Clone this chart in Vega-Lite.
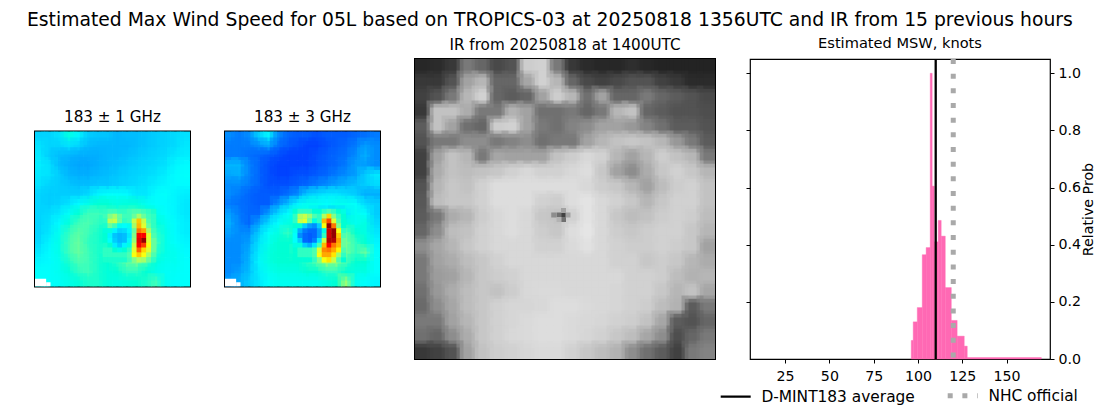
{
"$schema":"https://vega.github.io/schema/vega-lite/v6.json",
"padding":{"left":27,"right":0,"top":10,"bottom":0},
"background":"white",
"config":{"font":"DejaVu Sans","view":{"stroke":"black","strokeWidth":1.2},"concat":{"spacing":35},
"axis":{"domain":false,"grid":false,"tickColor":"black","tickSize":4,"labelColor":"black","labelFontSize":14.2,"titleFontWeight":"normal","titleFontSize":14.2,"titleColor":"black","labelPadding":4}},
"title":{"text":"Estimated Max Wind Speed for 05L based on TROPICS-03 at 20250818 1356UTC and IR from 15 previous hours","fontSize":18.75,"fontWeight":"normal","anchor":"start","frame":"group","offset":6,"dx":-8},
"datasets":{
"hist":[{"lo":96.2,"hi":97.3,"prob":0.065},{"lo":97.3,"hi":99.6,"prob":0.13},{"lo":99.6,"hi":102.4,"prob":0.18},{"lo":102.4,"hi":104.6,"prob":0.365},{"lo":104.6,"hi":106.9,"prob":0.39},{"lo":106.9,"hi":108.0,"prob":1.0},{"lo":108.0,"hi":109.2,"prob":0.605},{"lo":109.2,"hi":110.3,"prob":0.41},{"lo":110.3,"hi":111.4,"prob":0.41},{"lo":111.4,"hi":113.1,"prob":0.485},{"lo":113.1,"hi":115.4,"prob":0.43},{"lo":115.4,"hi":118.8,"prob":0.25},{"lo":118.8,"hi":122.1,"prob":0.135},{"lo":122.1,"hi":126.1,"prob":0.08},{"lo":126.1,"hi":127.8,"prob":0.045},{"lo":127.8,"hi":169.6,"prob":0.005}],
"marks":[{"name":"D-MINT183 average","knots":110},{"name":"NHC official","knots":119.9}],
"nodata":[{"x":0,"x2":4.6,"y":60.8,"y2":64},{"x":4.6,"x2":6.4,"y":62.2,"y2":64}],
"mw1":[
{"x":2,"y":2,"v":31},{"x":6,"y":2,"v":31},{"x":10,"y":2,"v":33},{"x":14,"y":2,"v":42},{"x":18,"y":2,"v":36},{"x":22,"y":2,"v":30},{"x":26,"y":2,"v":29},{"x":30,"y":2,"v":29},{"x":34,"y":2,"v":27},{"x":38,"y":2,"v":28},{"x":42,"y":2,"v":28},{"x":46,"y":2,"v":29},{"x":50,"y":2,"v":30},{"x":54,"y":2,"v":31},{"x":58,"y":2,"v":32},{"x":62,"y":2,"v":33},
{"x":2,"y":6,"v":33},{"x":6,"y":6,"v":31},{"x":10,"y":6,"v":31},{"x":14,"y":6,"v":33},{"x":18,"y":6,"v":31},{"x":22,"y":6,"v":28},{"x":26,"y":6,"v":27},{"x":30,"y":6,"v":27},{"x":34,"y":6,"v":27},{"x":38,"y":6,"v":27},{"x":42,"y":6,"v":28},{"x":46,"y":6,"v":29},{"x":50,"y":6,"v":30},{"x":54,"y":6,"v":31},{"x":58,"y":6,"v":32},{"x":62,"y":6,"v":34},
{"x":2,"y":10,"v":34},{"x":6,"y":10,"v":30},{"x":10,"y":10,"v":28},{"x":14,"y":10,"v":27},{"x":18,"y":10,"v":26},{"x":22,"y":10,"v":26},{"x":26,"y":10,"v":26},{"x":30,"y":10,"v":27},{"x":34,"y":10,"v":27},{"x":38,"y":10,"v":28},{"x":42,"y":10,"v":29},{"x":46,"y":10,"v":30},{"x":50,"y":10,"v":31},{"x":54,"y":10,"v":32},{"x":58,"y":10,"v":34},{"x":62,"y":10,"v":35},
{"x":2,"y":14,"v":35},{"x":6,"y":14,"v":33},{"x":10,"y":14,"v":28},{"x":14,"y":14,"v":26},{"x":18,"y":14,"v":25},{"x":22,"y":14,"v":25},{"x":26,"y":14,"v":26},{"x":30,"y":14,"v":27},{"x":34,"y":14,"v":28},{"x":38,"y":14,"v":29},{"x":42,"y":14,"v":30},{"x":46,"y":14,"v":31},{"x":50,"y":14,"v":32},{"x":54,"y":14,"v":33},{"x":58,"y":14,"v":36},{"x":62,"y":14,"v":37},
{"x":2,"y":18,"v":34},{"x":6,"y":18,"v":33},{"x":10,"y":18,"v":30},{"x":14,"y":18,"v":27},{"x":18,"y":18,"v":26},{"x":22,"y":18,"v":26},{"x":26,"y":18,"v":27},{"x":30,"y":18,"v":28},{"x":34,"y":18,"v":29},{"x":38,"y":18,"v":30},{"x":42,"y":18,"v":31},{"x":46,"y":18,"v":32},{"x":50,"y":18,"v":33},{"x":54,"y":18,"v":35},{"x":58,"y":18,"v":37},{"x":62,"y":18,"v":38},
{"x":2,"y":22,"v":33},{"x":6,"y":22,"v":31},{"x":10,"y":22,"v":30},{"x":14,"y":22,"v":29},{"x":18,"y":22,"v":28},{"x":22,"y":22,"v":28},{"x":26,"y":22,"v":29},{"x":30,"y":22,"v":29},{"x":34,"y":22,"v":30},{"x":38,"y":22,"v":31},{"x":42,"y":22,"v":32},{"x":46,"y":22,"v":33},{"x":50,"y":22,"v":35},{"x":54,"y":22,"v":36},{"x":58,"y":22,"v":37},{"x":62,"y":22,"v":37},
{"x":2,"y":26,"v":31},{"x":6,"y":26,"v":30},{"x":10,"y":26,"v":30},{"x":14,"y":26,"v":30},{"x":18,"y":26,"v":30},{"x":22,"y":26,"v":32},{"x":26,"y":26,"v":36},{"x":30,"y":26,"v":38},{"x":34,"y":26,"v":38},{"x":38,"y":26,"v":37},{"x":42,"y":26,"v":34},{"x":46,"y":26,"v":34},{"x":50,"y":26,"v":37},{"x":54,"y":26,"v":38},{"x":58,"y":26,"v":36},{"x":62,"y":26,"v":35},
{"x":2,"y":30,"v":31},{"x":6,"y":30,"v":30},{"x":10,"y":30,"v":31},{"x":14,"y":30,"v":33},{"x":18,"y":30,"v":37},{"x":22,"y":30,"v":41},{"x":26,"y":30,"v":44},{"x":30,"y":30,"v":44},{"x":34,"y":30,"v":42},{"x":38,"y":30,"v":43},{"x":42,"y":30,"v":43},{"x":46,"y":30,"v":40},{"x":50,"y":30,"v":38},{"x":54,"y":30,"v":37},{"x":58,"y":30,"v":36},{"x":62,"y":30,"v":34},
{"x":2,"y":34,"v":31},{"x":6,"y":34,"v":32},{"x":10,"y":34,"v":34},{"x":14,"y":34,"v":39},{"x":18,"y":34,"v":44},{"x":22,"y":34,"v":47},{"x":26,"y":34,"v":47},{"x":30,"y":34,"v":46},{"x":34,"y":34,"v":45},{"x":38,"y":34,"v":46},{"x":42,"y":34,"v":46},{"x":46,"y":34,"v":44},{"x":50,"y":34,"v":41},{"x":54,"y":34,"v":38},{"x":58,"y":34,"v":36},{"x":62,"y":34,"v":34},
{"x":2,"y":38,"v":31},{"x":6,"y":38,"v":33},{"x":10,"y":38,"v":37},{"x":14,"y":38,"v":43},{"x":18,"y":38,"v":47},{"x":22,"y":38,"v":48},{"x":26,"y":38,"v":46},{"x":30,"y":38,"v":45},{"x":34,"y":38,"v":50},{"x":38,"y":38,"v":42},{"x":42,"y":38,"v":50},{"x":46,"y":38,"v":50},{"x":50,"y":38,"v":44},{"x":54,"y":38,"v":40},{"x":58,"y":38,"v":37},{"x":62,"y":38,"v":35},
{"x":2,"y":42,"v":31},{"x":6,"y":42,"v":34},{"x":10,"y":42,"v":40},{"x":14,"y":42,"v":46},{"x":18,"y":42,"v":49},{"x":22,"y":42,"v":47},{"x":26,"y":42,"v":45},{"x":30,"y":42,"v":44},{"x":34,"y":42,"v":35},{"x":38,"y":42,"v":30},{"x":42,"y":42,"v":60},{"x":46,"y":42,"v":62},{"x":50,"y":42,"v":46},{"x":54,"y":42,"v":41},{"x":58,"y":42,"v":37},{"x":62,"y":42,"v":35},
{"x":2,"y":46,"v":32},{"x":6,"y":46,"v":36},{"x":10,"y":46,"v":41},{"x":14,"y":46,"v":47},{"x":18,"y":46,"v":50},{"x":22,"y":46,"v":46},{"x":26,"y":46,"v":45},{"x":30,"y":46,"v":44},{"x":34,"y":46,"v":43},{"x":38,"y":46,"v":38},{"x":42,"y":46,"v":65},{"x":46,"y":46,"v":62},{"x":50,"y":46,"v":48},{"x":54,"y":46,"v":41},{"x":58,"y":46,"v":38},{"x":62,"y":46,"v":36},
{"x":2,"y":50,"v":34},{"x":6,"y":50,"v":37},{"x":10,"y":50,"v":41},{"x":14,"y":50,"v":47},{"x":18,"y":50,"v":50},{"x":22,"y":50,"v":47},{"x":26,"y":50,"v":45},{"x":30,"y":50,"v":45},{"x":34,"y":50,"v":46},{"x":38,"y":50,"v":50},{"x":42,"y":50,"v":62},{"x":46,"y":50,"v":56},{"x":50,"y":50,"v":46},{"x":54,"y":50,"v":41},{"x":58,"y":50,"v":40},{"x":62,"y":50,"v":37},
{"x":2,"y":54,"v":36},{"x":6,"y":54,"v":37},{"x":10,"y":54,"v":40},{"x":14,"y":54,"v":45},{"x":18,"y":54,"v":48},{"x":22,"y":54,"v":47},{"x":26,"y":54,"v":45},{"x":30,"y":54,"v":44},{"x":34,"y":54,"v":46},{"x":38,"y":54,"v":50},{"x":42,"y":54,"v":52},{"x":46,"y":54,"v":48},{"x":50,"y":54,"v":43},{"x":54,"y":54,"v":40},{"x":58,"y":54,"v":40},{"x":62,"y":54,"v":38},
{"x":2,"y":58,"v":38},{"x":6,"y":58,"v":38},{"x":10,"y":58,"v":40},{"x":14,"y":58,"v":43},{"x":18,"y":58,"v":46},{"x":22,"y":58,"v":47},{"x":26,"y":58,"v":45},{"x":30,"y":58,"v":43},{"x":34,"y":58,"v":44},{"x":38,"y":58,"v":46},{"x":42,"y":58,"v":46},{"x":46,"y":58,"v":44},{"x":50,"y":58,"v":41},{"x":54,"y":58,"v":39},{"x":58,"y":58,"v":39},{"x":62,"y":58,"v":38},
{"x":2,"y":62,"v":38},{"x":6,"y":62,"v":38},{"x":10,"y":62,"v":39},{"x":14,"y":62,"v":41},{"x":18,"y":62,"v":43},{"x":22,"y":62,"v":45},{"x":26,"y":62,"v":45},{"x":30,"y":62,"v":43},{"x":34,"y":62,"v":42},{"x":38,"y":62,"v":43},{"x":42,"y":62,"v":44},{"x":46,"y":62,"v":45},{"x":50,"y":62,"v":47},{"x":54,"y":62,"v":40},{"x":58,"y":62,"v":38},{"x":62,"y":62,"v":38}
],
"mw1core":[
{"x":29,"y":33,"v":46},{"x":31,"y":33,"v":47},{"x":33,"y":33,"v":47},{"x":35,"y":33,"v":46},{"x":37,"y":33,"v":46},{"x":39,"y":33,"v":47},{"x":41,"y":33,"v":48},{"x":43,"y":33,"v":48},{"x":45,"y":33,"v":47},{"x":47,"y":33,"v":46},{"x":49,"y":33,"v":45},
{"x":29,"y":35,"v":47},{"x":31,"y":35,"v":52},{"x":33,"y":35,"v":55},{"x":35,"y":35,"v":50},{"x":37,"y":35,"v":47},{"x":39,"y":35,"v":47},{"x":41,"y":35,"v":50},{"x":43,"y":35,"v":55},{"x":45,"y":35,"v":50},{"x":47,"y":35,"v":47},{"x":49,"y":35,"v":46},
{"x":29,"y":37,"v":46},{"x":31,"y":37,"v":57},{"x":33,"y":37,"v":58},{"x":35,"y":37,"v":50},{"x":37,"y":37,"v":46},{"x":39,"y":37,"v":47},{"x":41,"y":37,"v":58},{"x":43,"y":37,"v":70},{"x":45,"y":37,"v":58},{"x":47,"y":37,"v":48},{"x":49,"y":37,"v":46},
{"x":29,"y":39,"v":45},{"x":31,"y":39,"v":50},{"x":33,"y":39,"v":47},{"x":35,"y":39,"v":40},{"x":37,"y":39,"v":38},{"x":39,"y":39,"v":40},{"x":41,"y":39,"v":55},{"x":43,"y":39,"v":72},{"x":45,"y":39,"v":60},{"x":47,"y":39,"v":50},{"x":49,"y":39,"v":46},
{"x":29,"y":41,"v":43},{"x":31,"y":41,"v":42},{"x":33,"y":41,"v":36},{"x":35,"y":41,"v":31},{"x":37,"y":41,"v":32},{"x":39,"y":41,"v":36},{"x":41,"y":41,"v":50},{"x":43,"y":41,"v":80},{"x":45,"y":41,"v":75},{"x":47,"y":41,"v":55},{"x":49,"y":41,"v":47},
{"x":29,"y":43,"v":44},{"x":31,"y":43,"v":36},{"x":33,"y":43,"v":29},{"x":35,"y":43,"v":27},{"x":37,"y":43,"v":28},{"x":39,"y":43,"v":34},{"x":41,"y":43,"v":52},{"x":43,"y":43,"v":88},{"x":45,"y":43,"v":88},{"x":47,"y":43,"v":60},{"x":49,"y":43,"v":48},
{"x":29,"y":45,"v":44},{"x":31,"y":45,"v":38},{"x":33,"y":45,"v":30},{"x":35,"y":45,"v":27},{"x":37,"y":45,"v":28},{"x":39,"y":45,"v":36},{"x":41,"y":45,"v":54},{"x":43,"y":45,"v":90},{"x":45,"y":45,"v":98},{"x":47,"y":45,"v":60},{"x":49,"y":45,"v":50},
{"x":29,"y":47,"v":45},{"x":31,"y":47,"v":44},{"x":33,"y":47,"v":35},{"x":35,"y":47,"v":30},{"x":37,"y":47,"v":36},{"x":39,"y":47,"v":42},{"x":41,"y":47,"v":58},{"x":43,"y":47,"v":88},{"x":45,"y":47,"v":85},{"x":47,"y":47,"v":62},{"x":49,"y":47,"v":50},
{"x":29,"y":49,"v":46},{"x":31,"y":49,"v":46},{"x":33,"y":49,"v":44},{"x":35,"y":49,"v":42},{"x":37,"y":49,"v":44},{"x":39,"y":49,"v":46},{"x":41,"y":49,"v":60},{"x":43,"y":49,"v":82},{"x":45,"y":49,"v":68},{"x":47,"y":49,"v":60},{"x":49,"y":49,"v":50},
{"x":29,"y":51,"v":46},{"x":31,"y":51,"v":46},{"x":33,"y":51,"v":46},{"x":35,"y":51,"v":46},{"x":37,"y":51,"v":46},{"x":39,"y":51,"v":48},{"x":41,"y":51,"v":62},{"x":43,"y":51,"v":70},{"x":45,"y":51,"v":62},{"x":47,"y":51,"v":55},{"x":49,"y":51,"v":48},
{"x":29,"y":53,"v":45},{"x":31,"y":53,"v":45},{"x":33,"y":53,"v":45},{"x":35,"y":53,"v":45},{"x":37,"y":53,"v":45},{"x":39,"y":53,"v":47},{"x":41,"y":53,"v":52},{"x":43,"y":53,"v":56},{"x":45,"y":53,"v":55},{"x":47,"y":53,"v":50},{"x":49,"y":53,"v":46}
],
"mw2":[
{"x":2,"y":2,"v":22},{"x":6,"y":2,"v":20},{"x":10,"y":2,"v":22},{"x":14,"y":2,"v":30},{"x":18,"y":2,"v":36},{"x":22,"y":2,"v":22},{"x":26,"y":2,"v":18},{"x":30,"y":2,"v":17},{"x":34,"y":2,"v":17},{"x":38,"y":2,"v":16},{"x":42,"y":2,"v":17},{"x":46,"y":2,"v":17},{"x":50,"y":2,"v":17},{"x":54,"y":2,"v":18},{"x":58,"y":2,"v":19},{"x":62,"y":2,"v":20},
{"x":2,"y":6,"v":20},{"x":6,"y":6,"v":20},{"x":10,"y":6,"v":20},{"x":14,"y":6,"v":22},{"x":18,"y":6,"v":25},{"x":22,"y":6,"v":19},{"x":26,"y":6,"v":17},{"x":30,"y":6,"v":16},{"x":34,"y":6,"v":15},{"x":38,"y":6,"v":15},{"x":42,"y":6,"v":16},{"x":46,"y":6,"v":17},{"x":50,"y":6,"v":18},{"x":54,"y":6,"v":20},{"x":58,"y":6,"v":24},{"x":62,"y":6,"v":22},
{"x":2,"y":10,"v":20},{"x":6,"y":10,"v":20},{"x":10,"y":10,"v":19},{"x":14,"y":10,"v":18},{"x":18,"y":10,"v":17},{"x":22,"y":10,"v":16},{"x":26,"y":10,"v":15},{"x":30,"y":10,"v":15},{"x":34,"y":10,"v":15},{"x":38,"y":10,"v":16},{"x":42,"y":10,"v":17},{"x":46,"y":10,"v":18},{"x":50,"y":10,"v":19},{"x":54,"y":10,"v":22},{"x":58,"y":10,"v":26},{"x":62,"y":10,"v":22},
{"x":2,"y":14,"v":27},{"x":6,"y":14,"v":27},{"x":10,"y":14,"v":21},{"x":14,"y":14,"v":18},{"x":18,"y":14,"v":16},{"x":22,"y":14,"v":15},{"x":26,"y":14,"v":15},{"x":30,"y":14,"v":15},{"x":34,"y":14,"v":15},{"x":38,"y":14,"v":16},{"x":42,"y":14,"v":17},{"x":46,"y":14,"v":18},{"x":50,"y":14,"v":20},{"x":54,"y":14,"v":24},{"x":58,"y":14,"v":24},{"x":62,"y":14,"v":22},
{"x":2,"y":18,"v":25},{"x":6,"y":18,"v":26},{"x":10,"y":18,"v":21},{"x":14,"y":18,"v":18},{"x":18,"y":18,"v":16},{"x":22,"y":18,"v":15},{"x":26,"y":18,"v":15},{"x":30,"y":18,"v":16},{"x":34,"y":18,"v":16},{"x":38,"y":18,"v":17},{"x":42,"y":18,"v":18},{"x":46,"y":18,"v":20},{"x":50,"y":18,"v":22},{"x":54,"y":18,"v":24},{"x":58,"y":18,"v":30},{"x":62,"y":18,"v":34},
{"x":2,"y":22,"v":22},{"x":6,"y":22,"v":22},{"x":10,"y":22,"v":20},{"x":14,"y":22,"v":18},{"x":18,"y":22,"v":16},{"x":22,"y":22,"v":16},{"x":26,"y":22,"v":16},{"x":30,"y":22,"v":17},{"x":34,"y":22,"v":18},{"x":38,"y":22,"v":20},{"x":42,"y":22,"v":22},{"x":46,"y":22,"v":24},{"x":50,"y":22,"v":26},{"x":54,"y":22,"v":28},{"x":58,"y":22,"v":30},{"x":62,"y":22,"v":32},
{"x":2,"y":26,"v":22},{"x":6,"y":26,"v":20},{"x":10,"y":26,"v":18},{"x":14,"y":26,"v":17},{"x":18,"y":26,"v":17},{"x":22,"y":26,"v":17},{"x":26,"y":26,"v":19},{"x":30,"y":26,"v":22},{"x":34,"y":26,"v":30},{"x":38,"y":26,"v":32},{"x":42,"y":26,"v":34},{"x":46,"y":26,"v":34},{"x":50,"y":26,"v":32},{"x":54,"y":26,"v":30},{"x":58,"y":26,"v":26},{"x":62,"y":26,"v":26},
{"x":2,"y":30,"v":20},{"x":6,"y":30,"v":19},{"x":10,"y":30,"v":18},{"x":14,"y":30,"v":17},{"x":18,"y":30,"v":17},{"x":22,"y":30,"v":22},{"x":26,"y":30,"v":28},{"x":30,"y":30,"v":36},{"x":34,"y":30,"v":40},{"x":38,"y":30,"v":40},{"x":42,"y":30,"v":38},{"x":46,"y":30,"v":40},{"x":50,"y":30,"v":40},{"x":54,"y":30,"v":38},{"x":58,"y":30,"v":32},{"x":62,"y":30,"v":30},
{"x":2,"y":34,"v":24},{"x":6,"y":34,"v":20},{"x":10,"y":34,"v":18},{"x":14,"y":34,"v":18},{"x":18,"y":34,"v":24},{"x":22,"y":34,"v":32},{"x":26,"y":34,"v":38},{"x":30,"y":34,"v":42},{"x":34,"y":34,"v":40},{"x":38,"y":34,"v":34},{"x":42,"y":34,"v":32},{"x":46,"y":34,"v":30},{"x":50,"y":34,"v":34},{"x":54,"y":34,"v":40},{"x":58,"y":34,"v":38},{"x":62,"y":34,"v":30},
{"x":2,"y":38,"v":26},{"x":6,"y":38,"v":21},{"x":10,"y":38,"v":18},{"x":14,"y":38,"v":24},{"x":18,"y":38,"v":32},{"x":22,"y":38,"v":38},{"x":26,"y":38,"v":42},{"x":30,"y":38,"v":42},{"x":34,"y":38,"v":46},{"x":38,"y":38,"v":38},{"x":42,"y":38,"v":48},{"x":46,"y":38,"v":52},{"x":50,"y":38,"v":44},{"x":54,"y":38,"v":40},{"x":58,"y":38,"v":42},{"x":62,"y":38,"v":32},
{"x":2,"y":42,"v":24},{"x":6,"y":42,"v":22},{"x":10,"y":42,"v":22},{"x":14,"y":42,"v":30},{"x":18,"y":42,"v":38},{"x":22,"y":42,"v":42},{"x":26,"y":42,"v":46},{"x":30,"y":42,"v":44},{"x":34,"y":42,"v":30},{"x":38,"y":42,"v":22},{"x":42,"y":42,"v":55},{"x":46,"y":42,"v":70},{"x":50,"y":42,"v":50},{"x":54,"y":42,"v":44},{"x":58,"y":42,"v":42},{"x":62,"y":42,"v":34},
{"x":2,"y":46,"v":22},{"x":6,"y":46,"v":22},{"x":10,"y":46,"v":24},{"x":14,"y":46,"v":33},{"x":18,"y":46,"v":40},{"x":22,"y":46,"v":44},{"x":26,"y":46,"v":44},{"x":30,"y":46,"v":44},{"x":34,"y":46,"v":40},{"x":38,"y":46,"v":34},{"x":42,"y":46,"v":70},{"x":46,"y":46,"v":70},{"x":50,"y":46,"v":52},{"x":54,"y":46,"v":46},{"x":58,"y":46,"v":44},{"x":62,"y":46,"v":36},
{"x":2,"y":50,"v":22},{"x":6,"y":50,"v":22},{"x":10,"y":50,"v":26},{"x":14,"y":50,"v":35},{"x":18,"y":50,"v":42},{"x":22,"y":50,"v":44},{"x":26,"y":50,"v":44},{"x":30,"y":50,"v":46},{"x":34,"y":50,"v":46},{"x":38,"y":50,"v":54},{"x":42,"y":50,"v":66},{"x":46,"y":50,"v":62},{"x":50,"y":50,"v":52},{"x":54,"y":50,"v":46},{"x":58,"y":50,"v":50},{"x":62,"y":50,"v":38},
{"x":2,"y":54,"v":22},{"x":6,"y":54,"v":22},{"x":10,"y":54,"v":27},{"x":14,"y":54,"v":36},{"x":18,"y":54,"v":42},{"x":22,"y":54,"v":44},{"x":26,"y":54,"v":44},{"x":30,"y":54,"v":44},{"x":34,"y":54,"v":46},{"x":38,"y":54,"v":50},{"x":42,"y":54,"v":56},{"x":46,"y":54,"v":54},{"x":50,"y":54,"v":48},{"x":54,"y":54,"v":44},{"x":58,"y":54,"v":44},{"x":62,"y":54,"v":38},
{"x":2,"y":58,"v":22},{"x":6,"y":58,"v":24},{"x":10,"y":58,"v":28},{"x":14,"y":58,"v":35},{"x":18,"y":58,"v":40},{"x":22,"y":58,"v":42},{"x":26,"y":58,"v":42},{"x":30,"y":58,"v":42},{"x":34,"y":58,"v":44},{"x":38,"y":58,"v":44},{"x":42,"y":58,"v":46},{"x":46,"y":58,"v":46},{"x":50,"y":58,"v":44},{"x":54,"y":58,"v":42},{"x":58,"y":58,"v":42},{"x":62,"y":58,"v":38},
{"x":2,"y":62,"v":24},{"x":6,"y":62,"v":26},{"x":10,"y":62,"v":30},{"x":14,"y":62,"v":34},{"x":18,"y":62,"v":38},{"x":22,"y":62,"v":40},{"x":26,"y":62,"v":40},{"x":30,"y":62,"v":40},{"x":34,"y":62,"v":40},{"x":38,"y":62,"v":40},{"x":42,"y":62,"v":42},{"x":46,"y":62,"v":44},{"x":50,"y":62,"v":54},{"x":54,"y":62,"v":40},{"x":58,"y":62,"v":38},{"x":62,"y":62,"v":36}
],
"mw2core":[
{"x":29,"y":33,"v":44},{"x":31,"y":33,"v":46},{"x":33,"y":33,"v":46},{"x":35,"y":33,"v":46},{"x":37,"y":33,"v":44},{"x":39,"y":33,"v":44},{"x":41,"y":33,"v":46},{"x":43,"y":33,"v":48},{"x":45,"y":33,"v":46},{"x":47,"y":33,"v":44},{"x":49,"y":33,"v":42},
{"x":29,"y":35,"v":46},{"x":31,"y":35,"v":56},{"x":33,"y":35,"v":58},{"x":35,"y":35,"v":54},{"x":37,"y":35,"v":48},{"x":39,"y":35,"v":46},{"x":41,"y":35,"v":56},{"x":43,"y":35,"v":68},{"x":45,"y":35,"v":52},{"x":47,"y":35,"v":46},{"x":49,"y":35,"v":44},
{"x":29,"y":37,"v":46},{"x":31,"y":37,"v":58},{"x":33,"y":37,"v":60},{"x":35,"y":37,"v":50},{"x":37,"y":37,"v":42},{"x":39,"y":37,"v":46},{"x":41,"y":37,"v":72},{"x":43,"y":37,"v":84},{"x":45,"y":37,"v":60},{"x":47,"y":37,"v":48},{"x":49,"y":37,"v":44},
{"x":29,"y":39,"v":44},{"x":31,"y":39,"v":44},{"x":33,"y":39,"v":30},{"x":35,"y":39,"v":24},{"x":37,"y":39,"v":22},{"x":39,"y":39,"v":30},{"x":41,"y":39,"v":62},{"x":43,"y":39,"v":98},{"x":45,"y":39,"v":80},{"x":47,"y":39,"v":52},{"x":49,"y":39,"v":44},
{"x":29,"y":41,"v":40},{"x":31,"y":41,"v":26},{"x":33,"y":41,"v":20},{"x":35,"y":41,"v":18},{"x":37,"y":41,"v":18},{"x":39,"y":41,"v":24},{"x":41,"y":41,"v":42},{"x":43,"y":41,"v":92},{"x":45,"y":41,"v":98},{"x":47,"y":41,"v":62},{"x":49,"y":41,"v":46},
{"x":29,"y":43,"v":38},{"x":31,"y":43,"v":22},{"x":33,"y":43,"v":18},{"x":35,"y":43,"v":17},{"x":37,"y":43,"v":18},{"x":39,"y":43,"v":24},{"x":41,"y":43,"v":46},{"x":43,"y":43,"v":92},{"x":45,"y":43,"v":98},{"x":47,"y":43,"v":70},{"x":49,"y":43,"v":48},
{"x":29,"y":45,"v":38},{"x":31,"y":45,"v":30},{"x":33,"y":45,"v":18},{"x":35,"y":45,"v":17},{"x":37,"y":45,"v":20},{"x":39,"y":45,"v":34},{"x":41,"y":45,"v":58},{"x":43,"y":45,"v":95},{"x":45,"y":45,"v":95},{"x":47,"y":45,"v":75},{"x":49,"y":45,"v":50},
{"x":29,"y":47,"v":42},{"x":31,"y":47,"v":42},{"x":33,"y":47,"v":30},{"x":35,"y":47,"v":26},{"x":37,"y":47,"v":34},{"x":39,"y":47,"v":48},{"x":41,"y":47,"v":72},{"x":43,"y":47,"v":88},{"x":45,"y":47,"v":80},{"x":47,"y":47,"v":72},{"x":49,"y":47,"v":50},
{"x":29,"y":49,"v":44},{"x":31,"y":49,"v":46},{"x":33,"y":49,"v":46},{"x":35,"y":49,"v":46},{"x":37,"y":49,"v":48},{"x":39,"y":49,"v":60},{"x":41,"y":49,"v":78},{"x":43,"y":49,"v":80},{"x":45,"y":49,"v":74},{"x":47,"y":49,"v":64},{"x":49,"y":49,"v":48},
{"x":29,"y":51,"v":44},{"x":31,"y":51,"v":46},{"x":33,"y":51,"v":46},{"x":35,"y":51,"v":46},{"x":37,"y":51,"v":48},{"x":39,"y":51,"v":62},{"x":41,"y":51,"v":74},{"x":43,"y":51,"v":74},{"x":45,"y":51,"v":66},{"x":47,"y":51,"v":54},{"x":49,"y":51,"v":46},
{"x":29,"y":53,"v":44},{"x":31,"y":53,"v":44},{"x":33,"y":53,"v":44},{"x":35,"y":53,"v":44},{"x":37,"y":53,"v":46},{"x":39,"y":53,"v":52},{"x":41,"y":53,"v":62},{"x":43,"y":53,"v":66},{"x":45,"y":53,"v":58},{"x":47,"y":53,"v":48},{"x":49,"y":53,"v":44}
],
"ir":[
{"x":0.5,"y":0.5,"v":40},{"x":1.5,"y":0.5,"v":45},{"x":2.5,"y":0.5,"v":60},{"x":3.5,"y":0.5,"v":130},{"x":4.5,"y":0.5,"v":110},{"x":5.5,"y":0.5,"v":80},{"x":6.5,"y":0.5,"v":90},{"x":7.5,"y":0.5,"v":210},{"x":8.5,"y":0.5,"v":215},{"x":9.5,"y":0.5,"v":130},{"x":10.5,"y":0.5,"v":60},{"x":11.5,"y":0.5,"v":45},{"x":12.5,"y":0.5,"v":40},{"x":13.5,"y":0.5,"v":40},{"x":14.5,"y":0.5,"v":50},{"x":15.5,"y":0.5,"v":40},{"x":16.5,"y":0.5,"v":35},{"x":17.5,"y":0.5,"v":35},{"x":18.5,"y":0.5,"v":35},{"x":19.5,"y":0.5,"v":35},
{"x":0.5,"y":1.5,"v":60},{"x":1.5,"y":1.5,"v":60},{"x":2.5,"y":1.5,"v":90},{"x":3.5,"y":1.5,"v":170},{"x":4.5,"y":1.5,"v":190},{"x":5.5,"y":1.5,"v":110},{"x":6.5,"y":1.5,"v":110},{"x":7.5,"y":1.5,"v":175},{"x":8.5,"y":1.5,"v":215},{"x":9.5,"y":1.5,"v":190},{"x":10.5,"y":1.5,"v":110},{"x":11.5,"y":1.5,"v":80},{"x":12.5,"y":1.5,"v":70},{"x":13.5,"y":1.5,"v":80},{"x":14.5,"y":1.5,"v":90},{"x":15.5,"y":1.5,"v":90},{"x":16.5,"y":1.5,"v":70},{"x":17.5,"y":1.5,"v":60},{"x":18.5,"y":1.5,"v":45},{"x":19.5,"y":1.5,"v":45},
{"x":0.5,"y":2.5,"v":70},{"x":1.5,"y":2.5,"v":90},{"x":2.5,"y":2.5,"v":130},{"x":3.5,"y":2.5,"v":190},{"x":4.5,"y":2.5,"v":215},{"x":5.5,"y":2.5,"v":110},{"x":6.5,"y":2.5,"v":100},{"x":7.5,"y":2.5,"v":110},{"x":8.5,"y":2.5,"v":170},{"x":9.5,"y":2.5,"v":210},{"x":10.5,"y":2.5,"v":190},{"x":11.5,"y":2.5,"v":120},{"x":12.5,"y":2.5,"v":170},{"x":13.5,"y":2.5,"v":110},{"x":14.5,"y":2.5,"v":110},{"x":15.5,"y":2.5,"v":130},{"x":16.5,"y":2.5,"v":110},{"x":17.5,"y":2.5,"v":100},{"x":18.5,"y":2.5,"v":90},{"x":19.5,"y":2.5,"v":80},
{"x":0.5,"y":3.5,"v":60},{"x":1.5,"y":3.5,"v":200},{"x":2.5,"y":3.5,"v":200},{"x":3.5,"y":3.5,"v":180},{"x":4.5,"y":3.5,"v":130},{"x":5.5,"y":3.5,"v":130},{"x":6.5,"y":3.5,"v":185},{"x":7.5,"y":3.5,"v":170},{"x":8.5,"y":3.5,"v":120},{"x":9.5,"y":3.5,"v":120},{"x":10.5,"y":3.5,"v":130},{"x":11.5,"y":3.5,"v":110},{"x":12.5,"y":3.5,"v":130},{"x":13.5,"y":3.5,"v":190},{"x":14.5,"y":3.5,"v":200},{"x":15.5,"y":3.5,"v":110},{"x":16.5,"y":3.5,"v":100},{"x":17.5,"y":3.5,"v":90},{"x":18.5,"y":3.5,"v":90},{"x":19.5,"y":3.5,"v":85},
{"x":0.5,"y":4.5,"v":100},{"x":1.5,"y":4.5,"v":200},{"x":2.5,"y":4.5,"v":170},{"x":3.5,"y":4.5,"v":120},{"x":4.5,"y":4.5,"v":110},{"x":5.5,"y":4.5,"v":210},{"x":6.5,"y":4.5,"v":215},{"x":7.5,"y":4.5,"v":170},{"x":8.5,"y":4.5,"v":130},{"x":9.5,"y":4.5,"v":120},{"x":10.5,"y":4.5,"v":140},{"x":11.5,"y":4.5,"v":150},{"x":12.5,"y":4.5,"v":170},{"x":13.5,"y":4.5,"v":170},{"x":14.5,"y":4.5,"v":160},{"x":15.5,"y":4.5,"v":140},{"x":16.5,"y":4.5,"v":120},{"x":17.5,"y":4.5,"v":100},{"x":18.5,"y":4.5,"v":100},{"x":19.5,"y":4.5,"v":90},
{"x":0.5,"y":5.5,"v":90},{"x":1.5,"y":5.5,"v":130},{"x":2.5,"y":5.5,"v":130},{"x":3.5,"y":5.5,"v":150},{"x":4.5,"y":5.5,"v":150},{"x":5.5,"y":5.5,"v":130},{"x":6.5,"y":5.5,"v":140},{"x":7.5,"y":5.5,"v":150},{"x":8.5,"y":5.5,"v":120},{"x":9.5,"y":5.5,"v":130},{"x":10.5,"y":5.5,"v":130},{"x":11.5,"y":5.5,"v":170},{"x":12.5,"y":5.5,"v":190},{"x":13.5,"y":5.5,"v":200},{"x":14.5,"y":5.5,"v":205},{"x":15.5,"y":5.5,"v":200},{"x":16.5,"y":5.5,"v":190},{"x":17.5,"y":5.5,"v":160},{"x":18.5,"y":5.5,"v":130},{"x":19.5,"y":5.5,"v":100},
{"x":0.5,"y":6.5,"v":70},{"x":1.5,"y":6.5,"v":170},{"x":2.5,"y":6.5,"v":200},{"x":3.5,"y":6.5,"v":190},{"x":4.5,"y":6.5,"v":130},{"x":5.5,"y":6.5,"v":175},{"x":6.5,"y":6.5,"v":170},{"x":7.5,"y":6.5,"v":170},{"x":8.5,"y":6.5,"v":170},{"x":9.5,"y":6.5,"v":200},{"x":10.5,"y":6.5,"v":210},{"x":11.5,"y":6.5,"v":220},{"x":12.5,"y":6.5,"v":215},{"x":13.5,"y":6.5,"v":190},{"x":14.5,"y":6.5,"v":170},{"x":15.5,"y":6.5,"v":190},{"x":16.5,"y":6.5,"v":210},{"x":17.5,"y":6.5,"v":200},{"x":18.5,"y":6.5,"v":190},{"x":19.5,"y":6.5,"v":130},
{"x":0.5,"y":7.5,"v":70},{"x":1.5,"y":7.5,"v":180},{"x":2.5,"y":7.5,"v":200},{"x":3.5,"y":7.5,"v":195},{"x":4.5,"y":7.5,"v":200},{"x":5.5,"y":7.5,"v":205},{"x":6.5,"y":7.5,"v":215},{"x":7.5,"y":7.5,"v":220},{"x":8.5,"y":7.5,"v":215},{"x":9.5,"y":7.5,"v":215},{"x":10.5,"y":7.5,"v":220},{"x":11.5,"y":7.5,"v":225},{"x":12.5,"y":7.5,"v":205},{"x":13.5,"y":7.5,"v":170},{"x":14.5,"y":7.5,"v":150},{"x":15.5,"y":7.5,"v":180},{"x":16.5,"y":7.5,"v":205},{"x":17.5,"y":7.5,"v":215},{"x":18.5,"y":7.5,"v":205},{"x":19.5,"y":7.5,"v":190},
{"x":0.5,"y":8.5,"v":90},{"x":1.5,"y":8.5,"v":190},{"x":2.5,"y":8.5,"v":205},{"x":3.5,"y":8.5,"v":200},{"x":4.5,"y":8.5,"v":215},{"x":5.5,"y":8.5,"v":225},{"x":6.5,"y":8.5,"v":225},{"x":7.5,"y":8.5,"v":225},{"x":8.5,"y":8.5,"v":225},{"x":9.5,"y":8.5,"v":225},{"x":10.5,"y":8.5,"v":225},{"x":11.5,"y":8.5,"v":220},{"x":12.5,"y":8.5,"v":210},{"x":13.5,"y":8.5,"v":205},{"x":14.5,"y":8.5,"v":190},{"x":15.5,"y":8.5,"v":170},{"x":16.5,"y":8.5,"v":195},{"x":17.5,"y":8.5,"v":210},{"x":18.5,"y":8.5,"v":215},{"x":19.5,"y":8.5,"v":200},
{"x":0.5,"y":9.5,"v":95},{"x":1.5,"y":9.5,"v":195},{"x":2.5,"y":9.5,"v":205},{"x":3.5,"y":9.5,"v":205},{"x":4.5,"y":9.5,"v":215},{"x":5.5,"y":9.5,"v":225},{"x":6.5,"y":9.5,"v":225},{"x":7.5,"y":9.5,"v":225},{"x":8.5,"y":9.5,"v":215},{"x":9.5,"y":9.5,"v":210},{"x":10.5,"y":9.5,"v":225},{"x":11.5,"y":9.5,"v":230},{"x":12.5,"y":9.5,"v":220},{"x":13.5,"y":9.5,"v":215},{"x":14.5,"y":9.5,"v":205},{"x":15.5,"y":9.5,"v":190},{"x":16.5,"y":9.5,"v":205},{"x":17.5,"y":9.5,"v":215},{"x":18.5,"y":9.5,"v":215},{"x":19.5,"y":9.5,"v":200},
{"x":0.5,"y":10.5,"v":100},{"x":1.5,"y":10.5,"v":130},{"x":2.5,"y":10.5,"v":180},{"x":3.5,"y":10.5,"v":190},{"x":4.5,"y":10.5,"v":210},{"x":5.5,"y":10.5,"v":220},{"x":6.5,"y":10.5,"v":225},{"x":7.5,"y":10.5,"v":220},{"x":8.5,"y":10.5,"v":205},{"x":9.5,"y":10.5,"v":200},{"x":10.5,"y":10.5,"v":215},{"x":11.5,"y":10.5,"v":230},{"x":12.5,"y":10.5,"v":220},{"x":13.5,"y":10.5,"v":205},{"x":14.5,"y":10.5,"v":195},{"x":15.5,"y":10.5,"v":200},{"x":16.5,"y":10.5,"v":210},{"x":17.5,"y":10.5,"v":215},{"x":18.5,"y":10.5,"v":210},{"x":19.5,"y":10.5,"v":195},
{"x":0.5,"y":11.5,"v":110},{"x":1.5,"y":11.5,"v":150},{"x":2.5,"y":11.5,"v":195},{"x":3.5,"y":11.5,"v":200},{"x":4.5,"y":11.5,"v":215},{"x":5.5,"y":11.5,"v":220},{"x":6.5,"y":11.5,"v":225},{"x":7.5,"y":11.5,"v":220},{"x":8.5,"y":11.5,"v":210},{"x":9.5,"y":11.5,"v":205},{"x":10.5,"y":11.5,"v":225},{"x":11.5,"y":11.5,"v":232},{"x":12.5,"y":11.5,"v":220},{"x":13.5,"y":11.5,"v":210},{"x":14.5,"y":11.5,"v":205},{"x":15.5,"y":11.5,"v":210},{"x":16.5,"y":11.5,"v":215},{"x":17.5,"y":11.5,"v":215},{"x":18.5,"y":11.5,"v":205},{"x":19.5,"y":11.5,"v":190},
{"x":0.5,"y":12.5,"v":150},{"x":1.5,"y":12.5,"v":175},{"x":2.5,"y":12.5,"v":190},{"x":3.5,"y":12.5,"v":205},{"x":4.5,"y":12.5,"v":215},{"x":5.5,"y":12.5,"v":220},{"x":6.5,"y":12.5,"v":220},{"x":7.5,"y":12.5,"v":220},{"x":8.5,"y":12.5,"v":215},{"x":9.5,"y":12.5,"v":215},{"x":10.5,"y":12.5,"v":222},{"x":11.5,"y":12.5,"v":228},{"x":12.5,"y":12.5,"v":220},{"x":13.5,"y":12.5,"v":215},{"x":14.5,"y":12.5,"v":210},{"x":15.5,"y":12.5,"v":210},{"x":16.5,"y":12.5,"v":215},{"x":17.5,"y":12.5,"v":210},{"x":18.5,"y":12.5,"v":205},{"x":19.5,"y":12.5,"v":170},
{"x":0.5,"y":13.5,"v":130},{"x":1.5,"y":13.5,"v":170},{"x":2.5,"y":13.5,"v":180},{"x":3.5,"y":13.5,"v":195},{"x":4.5,"y":13.5,"v":205},{"x":5.5,"y":13.5,"v":215},{"x":6.5,"y":13.5,"v":220},{"x":7.5,"y":13.5,"v":220},{"x":8.5,"y":13.5,"v":220},{"x":9.5,"y":13.5,"v":220},{"x":10.5,"y":13.5,"v":220},{"x":11.5,"y":13.5,"v":220},{"x":12.5,"y":13.5,"v":220},{"x":13.5,"y":13.5,"v":215},{"x":14.5,"y":13.5,"v":215},{"x":15.5,"y":13.5,"v":205},{"x":16.5,"y":13.5,"v":210},{"x":17.5,"y":13.5,"v":205},{"x":18.5,"y":13.5,"v":190},{"x":19.5,"y":13.5,"v":180},
{"x":0.5,"y":14.5,"v":130},{"x":1.5,"y":14.5,"v":165},{"x":2.5,"y":14.5,"v":170},{"x":3.5,"y":14.5,"v":190},{"x":4.5,"y":14.5,"v":205},{"x":5.5,"y":14.5,"v":210},{"x":6.5,"y":14.5,"v":215},{"x":7.5,"y":14.5,"v":220},{"x":8.5,"y":14.5,"v":220},{"x":9.5,"y":14.5,"v":220},{"x":10.5,"y":14.5,"v":220},{"x":11.5,"y":14.5,"v":220},{"x":12.5,"y":14.5,"v":220},{"x":13.5,"y":14.5,"v":220},{"x":14.5,"y":14.5,"v":215},{"x":15.5,"y":14.5,"v":215},{"x":16.5,"y":14.5,"v":210},{"x":17.5,"y":14.5,"v":195},{"x":18.5,"y":14.5,"v":185},{"x":19.5,"y":14.5,"v":190},
{"x":0.5,"y":15.5,"v":120},{"x":1.5,"y":15.5,"v":160},{"x":2.5,"y":15.5,"v":180},{"x":3.5,"y":15.5,"v":195},{"x":4.5,"y":15.5,"v":205},{"x":5.5,"y":15.5,"v":200},{"x":6.5,"y":15.5,"v":210},{"x":7.5,"y":15.5,"v":220},{"x":8.5,"y":15.5,"v":222},{"x":9.5,"y":15.5,"v":222},{"x":10.5,"y":15.5,"v":220},{"x":11.5,"y":15.5,"v":220},{"x":12.5,"y":15.5,"v":220},{"x":13.5,"y":15.5,"v":218},{"x":14.5,"y":15.5,"v":215},{"x":15.5,"y":15.5,"v":215},{"x":16.5,"y":15.5,"v":205},{"x":17.5,"y":15.5,"v":190},{"x":18.5,"y":15.5,"v":200},{"x":19.5,"y":15.5,"v":175},
{"x":0.5,"y":16.5,"v":115},{"x":1.5,"y":16.5,"v":150},{"x":2.5,"y":16.5,"v":175},{"x":3.5,"y":16.5,"v":195},{"x":4.5,"y":16.5,"v":205},{"x":5.5,"y":16.5,"v":215},{"x":6.5,"y":16.5,"v":218},{"x":7.5,"y":16.5,"v":218},{"x":8.5,"y":16.5,"v":220},{"x":9.5,"y":16.5,"v":225},{"x":10.5,"y":16.5,"v":225},{"x":11.5,"y":16.5,"v":222},{"x":12.5,"y":16.5,"v":220},{"x":13.5,"y":16.5,"v":218},{"x":14.5,"y":16.5,"v":215},{"x":15.5,"y":16.5,"v":210},{"x":16.5,"y":16.5,"v":195},{"x":17.5,"y":16.5,"v":185},{"x":18.5,"y":16.5,"v":100},{"x":19.5,"y":16.5,"v":130},
{"x":0.5,"y":17.5,"v":130},{"x":1.5,"y":17.5,"v":130},{"x":2.5,"y":17.5,"v":170},{"x":3.5,"y":17.5,"v":190},{"x":4.5,"y":17.5,"v":205},{"x":5.5,"y":17.5,"v":215},{"x":6.5,"y":17.5,"v":218},{"x":7.5,"y":17.5,"v":222},{"x":8.5,"y":17.5,"v":225},{"x":9.5,"y":17.5,"v":225},{"x":10.5,"y":17.5,"v":222},{"x":11.5,"y":17.5,"v":220},{"x":12.5,"y":17.5,"v":218},{"x":13.5,"y":17.5,"v":215},{"x":14.5,"y":17.5,"v":210},{"x":15.5,"y":17.5,"v":200},{"x":16.5,"y":17.5,"v":175},{"x":17.5,"y":17.5,"v":100},{"x":18.5,"y":17.5,"v":90},{"x":19.5,"y":17.5,"v":110},
{"x":0.5,"y":18.5,"v":120},{"x":1.5,"y":18.5,"v":110},{"x":2.5,"y":18.5,"v":150},{"x":3.5,"y":18.5,"v":180},{"x":4.5,"y":18.5,"v":205},{"x":5.5,"y":18.5,"v":215},{"x":6.5,"y":18.5,"v":220},{"x":7.5,"y":18.5,"v":222},{"x":8.5,"y":18.5,"v":225},{"x":9.5,"y":18.5,"v":225},{"x":10.5,"y":18.5,"v":222},{"x":11.5,"y":18.5,"v":218},{"x":12.5,"y":18.5,"v":215},{"x":13.5,"y":18.5,"v":205},{"x":14.5,"y":18.5,"v":195},{"x":15.5,"y":18.5,"v":175},{"x":16.5,"y":18.5,"v":150},{"x":17.5,"y":18.5,"v":85},{"x":18.5,"y":18.5,"v":110},{"x":19.5,"y":18.5,"v":130},
{"x":0.5,"y":19.5,"v":60},{"x":1.5,"y":19.5,"v":70},{"x":2.5,"y":19.5,"v":90},{"x":3.5,"y":19.5,"v":170},{"x":4.5,"y":19.5,"v":200},{"x":5.5,"y":19.5,"v":210},{"x":6.5,"y":19.5,"v":215},{"x":7.5,"y":19.5,"v":218},{"x":8.5,"y":19.5,"v":222},{"x":9.5,"y":19.5,"v":222},{"x":10.5,"y":19.5,"v":215},{"x":11.5,"y":19.5,"v":205},{"x":12.5,"y":19.5,"v":195},{"x":13.5,"y":19.5,"v":185},{"x":14.5,"y":19.5,"v":150},{"x":15.5,"y":19.5,"v":120},{"x":16.5,"y":19.5,"v":100},{"x":17.5,"y":19.5,"v":70},{"x":18.5,"y":19.5,"v":130},{"x":19.5,"y":19.5,"v":140}
],
"ireye":[{"x":9.9,"y":10.4,"v":70},{"x":9.6,"y":10.4,"v":120},{"x":9.25,"y":10.4,"v":150},{"x":9.9,"y":10.7,"v":120},{"x":9.9,"y":10.1,"v":170},{"x":9.6,"y":10.7,"v":185},{"x":10.2,"y":10.4,"v":170}]
},
"center":true,
"bounds":"flush",
"hconcat":[
{"width":155,"height":155,"view":{"stroke":"black","strokeWidth":2},
"title":{"text":"183 ± 1 GHz","fontSize":15.2,"fontWeight":"normal","offset":6},
"encoding":{
"x":{"field":"x","type":"quantitative","axis":null,"scale":{"domain":[0,64]}},
"y":{"field":"y","type":"quantitative","axis":null,"scale":{"domain":[64,0]}}},
"layer":[
{"data":{"name":"mw1"},"mark":{"type":"rect","width":10.2,"height":10.2,"clip":true},"encoding":{"color":{"field":"v","type":"quantitative","legend":null,"scale":{"domain":[0,12.5,37.5,62.5,87.5,100],"range":["#000080","#0000ff","#00ffff","#ffff00","#ff0000","#800000"]}}}},
{"data":{"name":"mw1"},"mark":{"type":"rect","width":17,"height":17,"opacity":0.35,"clip":true},"encoding":{"color":{"field":"v","type":"quantitative","legend":null}}},
{"data":{"name":"mw1core"},"mark":{"type":"rect","width":5.2,"height":5.2,"clip":true},"encoding":{"color":{"field":"v","type":"quantitative","legend":null}}},
{"data":{"name":"nodata"},"mark":{"type":"rect","color":"white","clip":true},"encoding":{"x2":{"field":"x2"},"y2":{"field":"y2"}}}
]},
{"width":155,"height":155,"view":{"stroke":"black","strokeWidth":2},
"title":{"text":"183 ± 3 GHz","fontSize":15.2,"fontWeight":"normal","offset":6},
"encoding":{
"x":{"field":"x","type":"quantitative","axis":null,"scale":{"domain":[0,64]}},
"y":{"field":"y","type":"quantitative","axis":null,"scale":{"domain":[64,0]}}},
"layer":[
{"data":{"name":"mw2"},"mark":{"type":"rect","width":10.2,"height":10.2,"clip":true},"encoding":{"color":{"field":"v","type":"quantitative","legend":null,"scale":{"domain":[0,12.5,37.5,62.5,87.5,100],"range":["#000080","#0000ff","#00ffff","#ffff00","#ff0000","#800000"]}}}},
{"data":{"name":"mw2"},"mark":{"type":"rect","width":17,"height":17,"opacity":0.35,"clip":true},"encoding":{"color":{"field":"v","type":"quantitative","legend":null}}},
{"data":{"name":"mw2core"},"mark":{"type":"rect","width":5.2,"height":5.2,"clip":true},"encoding":{"color":{"field":"v","type":"quantitative","legend":null}}},
{"data":{"name":"nodata"},"mark":{"type":"rect","color":"white","clip":true},"encoding":{"x2":{"field":"x2"},"y2":{"field":"y2"}}}
]},
{"width":300,"height":300,"view":{"stroke":"black","strokeWidth":2},
"title":{"text":"IR from 20250818 at 1400UTC","fontSize":15.2,"fontWeight":"normal","offset":6},
"encoding":{
"x":{"field":"x","type":"quantitative","axis":null,"scale":{"domain":[0,20]}},
"y":{"field":"y","type":"quantitative","axis":null,"scale":{"domain":[20,0]}}},
"layer":[
{"data":{"name":"ir"},"mark":{"type":"rect","width":15.5,"height":15.5,"clip":true},"encoding":{"color":{"field":"v","type":"quantitative","legend":null,"scale":{"domain":[0,255],"range":["#000000","#ffffff"]}}}},
{"data":{"name":"ir"},"mark":{"type":"rect","width":22,"height":22,"opacity":0.3,"clip":true},"encoding":{"color":{"field":"v","type":"quantitative","legend":null}}},
{"data":{"name":"ireye"},"mark":{"type":"rect","width":5,"height":5,"clip":true},"encoding":{"color":{"field":"v","type":"quantitative","legend":null}}}
]},
{"width":300,"height":300,
"title":{"text":"Estimated MSW, knots","fontSize":14.6,"fontWeight":"normal","offset":6},
"resolve":{"scale":{"y":"independent"},"axis":{"y":"independent"}},
"layer":[
{"data":{"name":"hist"},"mark":{"type":"rect","color":"#ff69b4","stroke":"#ff69b4","strokeWidth":0.4},
"encoding":{
"x":{"field":"lo","type":"quantitative","scale":{"domain":[5.2,174.5],"nice":false},"axis":{"title":null,"labelPadding":6,"values":[25,50,75,100,125,150]}},
"x2":{"field":"hi"},
"y":{"field":"prob","type":"quantitative","scale":{"domain":[0,1.05],"nice":false},"axis":{"orient":"right","title":"Relative Prob","titleAngle":270,"titleBaseline":"bottom","titlePadding":15,"values":[0,0.2,0.4,0.6,0.8,1.0],"format":".1f"}}}},
{"data":{"name":"hist"},"mark":{"type":"point","opacity":0},
"encoding":{
"x":{"field":"lo","type":"quantitative"},
"y":{"field":"prob","type":"quantitative","scale":{"domain":[0,1.05],"nice":false},"axis":{"orient":"left","title":null,"labels":false,"values":[0.2,0.4,0.6,0.8,1.0]}}}},
{"data":{"name":"marks"},"mark":{"type":"rule"},
"encoding":{
"x":{"field":"knots","type":"quantitative"},
"color":{"field":"name","type":"nominal","scale":{"range":["#000000","#a9a9a9"]},"legend":{"title":null,"orient":"none","legendX":-22,"legendY":329,"direction":"horizontal","columns":2,"columnPadding":22,"symbolType":"stroke","symbolSize":900,"labelFontSize":15.4,"labelLimit":300,"labelOffset":18,
"encode":{"symbols":{"update":{"strokeDash":{"signal":"datum.value === 'NHC official' ? [5, 9.67] : [1, 0]"},"strokeWidth":{"signal":"datum.value === 'NHC official' ? 5 : 2.3"}}}}}},
"strokeDash":{"field":"name","type":"nominal","scale":{"range":[[1,0],[5,9.67]]},"legend":null},
"strokeWidth":{"field":"name","type":"nominal","scale":{"range":[2.3,5]},"legend":null}}}
]}
]
}
